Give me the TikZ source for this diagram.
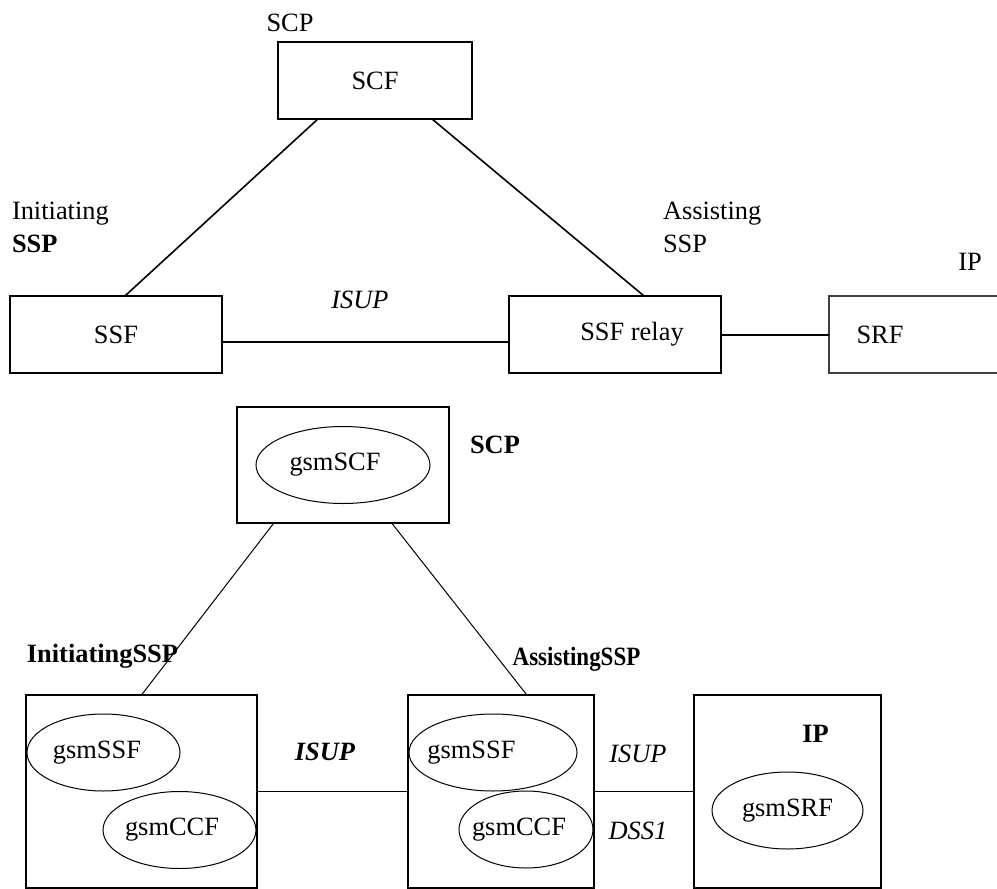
\documentclass[tikz,border=0pt]{standalone}
\usepackage{fontspec}
\usepackage{graphicx}
\setmainfont{Liberation Serif}
\usetikzlibrary{shapes.geometric}
\begin{document}
\begin{tikzpicture}[x=1pt, y=-1pt,
    every node/.style={font=\fontsize{13.2}{16.5}\selectfont, inner sep=0pt, outer sep=0pt},
    box/.style={draw, line width=1pt, minimum height=38.5pt},
    unit/.style={draw, line width=1pt, minimum height=96.5pt},
    fe/.style={draw, ellipse, line width=0.5pt, minimum height=38.5pt}]
    \useasboundingbox (0,0) rectangle (498.5,444.5);
    \clip (0,0) rectangle (498.5,444.5);
    \node[box, minimum width=97pt] (scf) at (187.5,40.25) {SCF};
    \node[box, minimum width=106pt] (ssf) at (58,167.25) {SSF};
    \node[box, minimum width=106pt] (ssfrelay) at (307.5,167.25) {\hspace*{17pt}SSF relay};
    \node[box, line width=0.6pt, draw=black!75, minimum width=92pt] (srf) at (460.5,167.25) {SRF\hspace*{41pt}};
    \node (scplabel) at (145,11.5) {SCP};
    \node[anchor=north west, align=left] (initlabel) at (6,101) {Initiating\\\textbf{SSP}};
    \node[anchor=north west, align=left] (assistlabel) at (331.5,101) {Assisting\\SSP};
    \node (iplabel) at (485,131) {IP};
    \node (isuplabel) at (180,150) {\textit{ISUP}};
    \draw[line width=0.8pt] (scf.214) -- (ssf.77);
    \draw[line width=0.8pt] (scf.-34) -- (ssfrelay.53);
    \draw[line width=0.7pt] (ssf.-4) -- (ssfrelay.184);
    \draw[line width=1pt] (ssfrelay.east) -- (srf.west);
    \node[unit, minimum width=106pt, minimum height=58pt] (gsmscp) at (171.5,232.5) {};
    \node[fe, minimum width=87pt, label={[xshift=-4pt]center:gsmSCF}] (gsmscf) at (171.5,232.5) {};
    \node (gsmscplabel) at (247.5,222.5) {\textbf{SCP}};
    \node[unit, minimum width=115.5pt] (initssp) at (70.75,395.75) {};
    \node[fe, minimum width=76.5pt, label={[xshift=-3.25pt]center:gsmSSF}] (initssf) at (51.75,376.25) {};
    \node[fe, minimum width=76.5pt, label={[xshift=-3.75pt]center:gsmCCF}] (initccf) at (89.75,415) {};
    \node[unit, minimum width=93pt] (assistssp) at (250.5,395.75) {};
    \node[fe, minimum width=84pt, label={[xshift=-10.75pt]center:gsmSSF}] (assistssf) at (246.5,376.25) {};
    \node[fe, minimum width=67pt, label={[xshift=-3.5pt]center:gsmCCF}] (assistccf) at (263,414.75) {};
    \node[unit, minimum width=93.5pt] (ip) at (393.75,395.75) {};
    \node[fe, minimum width=75.5pt] (gsmsrf) at (393.75,405.25) {gsmSRF};
    \node (initssplabel) at (51.25,328) {\textbf{InitiatingSSP}};
    \node (assistssplabel) at (288.25,329.5) {\scalebox{0.87}[1]{\textbf{AssistingSSP}}};
    \node (iplabel2) at (407.75,367) {\textbf{IP}};
    \node (isup1) at (162.5,376) {\textbf{\textit{ISUP}}};
    \node (isup2) at (319,377) {\textit{ISUP}};
    \node (dss1) at (319,415.5) {\textit{DSS1}};
    \draw[line width=0.5pt] (gsmscp.220) -- (initssp.north);
    \draw[line width=0.5pt] (gsmscp.-50) -- (assistssp.75);
    \draw[line width=0.5pt] (initssp.east) -- (assistssp.west);
    \draw[line width=0.5pt] (assistssp.east) -- (ip.west);
\end{tikzpicture}
\end{document}
